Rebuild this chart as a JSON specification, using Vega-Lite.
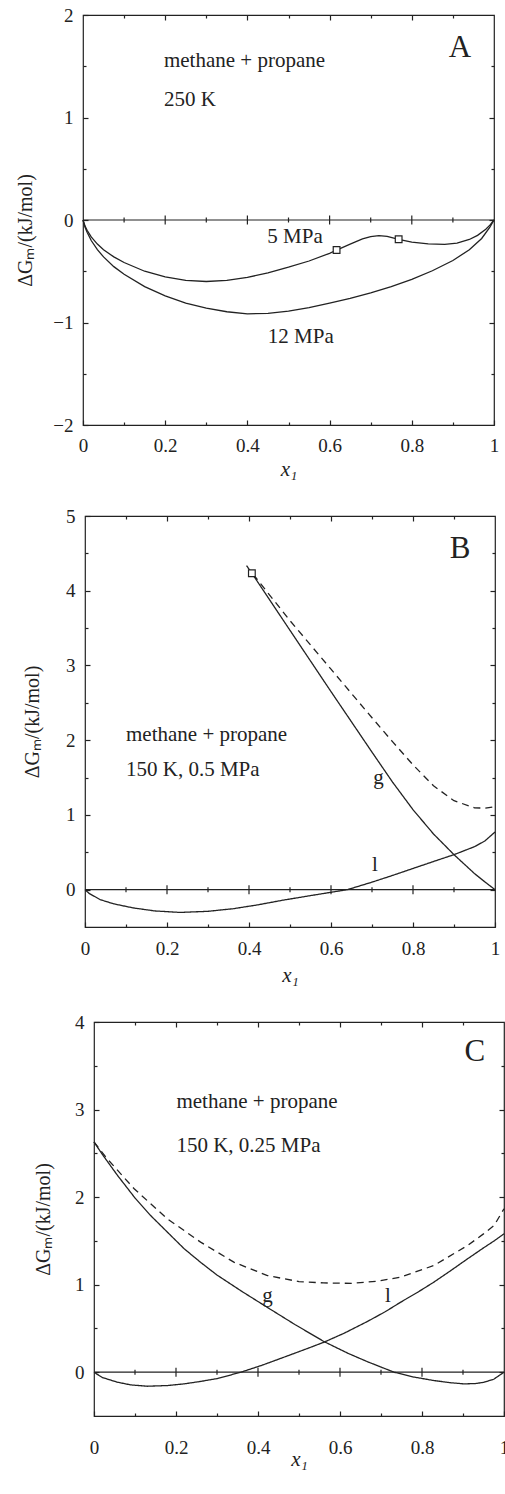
{
"$schema": "https://vega.github.io/schema/vega-lite/v6.json",
"background": "white",
"padding": {"left": 0, "right": 0, "top": 5, "bottom": 0},
"config": {
 "font": "Liberation Serif",
 "view": {"stroke": null},
 "axis": {"labelFont": "Liberation Serif", "labelFontSize": 19, "labelColor": "#222", "titleFont": "Liberation Serif", "titleFontSize": 20, "titleFontWeight": "normal", "titleColor": "#222", "tickColor": "#222", "tickWidth": 1.2, "domain": false, "grid": false, "labelFlush": false, "labelOverlap": false}
},
"datasets": {
 "A": [
  {"x":0,"y":0,"s":"5"},{"x":0.005,"y":-0.06,"s":"5"},{"x":0.01,"y":-0.1,"s":"5"},{"x":0.02,"y":-0.165,"s":"5"},{"x":0.035,"y":-0.235,"s":"5"},{"x":0.05,"y":-0.29,"s":"5"},{"x":0.075,"y":-0.36,"s":"5"},{"x":0.1,"y":-0.415,"s":"5"},{"x":0.15,"y":-0.5,"s":"5"},{"x":0.2,"y":-0.555,"s":"5"},{"x":0.25,"y":-0.59,"s":"5"},{"x":0.3,"y":-0.6,"s":"5"},{"x":0.35,"y":-0.59,"s":"5"},{"x":0.4,"y":-0.56,"s":"5"},{"x":0.45,"y":-0.515,"s":"5"},{"x":0.5,"y":-0.46,"s":"5"},{"x":0.55,"y":-0.4,"s":"5"},{"x":0.6,"y":-0.325,"s":"5"},{"x":0.617,"y":-0.293,"s":"5"},{"x":0.65,"y":-0.235,"s":"5"},{"x":0.68,"y":-0.185,"s":"5"},{"x":0.7,"y":-0.162,"s":"5"},{"x":0.72,"y":-0.153,"s":"5"},{"x":0.74,"y":-0.16,"s":"5"},{"x":0.768,"y":-0.188,"s":"5"},{"x":0.8,"y":-0.215,"s":"5"},{"x":0.84,"y":-0.233,"s":"5"},{"x":0.88,"y":-0.237,"s":"5"},{"x":0.91,"y":-0.225,"s":"5"},{"x":0.94,"y":-0.19,"s":"5"},{"x":0.96,"y":-0.15,"s":"5"},{"x":0.98,"y":-0.09,"s":"5"},{"x":0.99,"y":-0.05,"s":"5"},{"x":1,"y":0,"s":"5"},
  {"x":0,"y":0,"s":"12"},{"x":0.005,"y":-0.07,"s":"12"},{"x":0.01,"y":-0.12,"s":"12"},{"x":0.02,"y":-0.2,"s":"12"},{"x":0.035,"y":-0.29,"s":"12"},{"x":0.05,"y":-0.36,"s":"12"},{"x":0.075,"y":-0.455,"s":"12"},{"x":0.1,"y":-0.53,"s":"12"},{"x":0.15,"y":-0.65,"s":"12"},{"x":0.2,"y":-0.74,"s":"12"},{"x":0.25,"y":-0.81,"s":"12"},{"x":0.3,"y":-0.86,"s":"12"},{"x":0.35,"y":-0.895,"s":"12"},{"x":0.4,"y":-0.915,"s":"12"},{"x":0.45,"y":-0.91,"s":"12"},{"x":0.5,"y":-0.89,"s":"12"},{"x":0.55,"y":-0.855,"s":"12"},{"x":0.6,"y":-0.81,"s":"12"},{"x":0.65,"y":-0.765,"s":"12"},{"x":0.7,"y":-0.71,"s":"12"},{"x":0.75,"y":-0.65,"s":"12"},{"x":0.8,"y":-0.58,"s":"12"},{"x":0.85,"y":-0.495,"s":"12"},{"x":0.9,"y":-0.395,"s":"12"},{"x":0.94,"y":-0.29,"s":"12"},{"x":0.97,"y":-0.18,"s":"12"},{"x":0.99,"y":-0.07,"s":"12"},{"x":1,"y":0,"s":"12"}
 ],
 "B": [
  {"x":0.394,"y":4.337,"s":"g"},{"x":0.407,"y":4.234,"s":"g"},{"x":0.5,"y":3.47,"s":"g"},{"x":0.6,"y":2.65,"s":"g"},{"x":0.7,"y":1.84,"s":"g"},{"x":0.75,"y":1.44,"s":"g"},{"x":0.8,"y":1.07,"s":"g"},{"x":0.85,"y":0.745,"s":"g"},{"x":0.9,"y":0.468,"s":"g"},{"x":0.95,"y":0.215,"s":"g"},{"x":0.975,"y":0.105,"s":"g"},{"x":1,"y":0,"s":"g"},
  {"x":0,"y":0,"s":"l"},{"x":0.01,"y":-0.05,"s":"l"},{"x":0.037,"y":-0.134,"s":"l"},{"x":0.07,"y":-0.19,"s":"l"},{"x":0.118,"y":-0.245,"s":"l"},{"x":0.17,"y":-0.285,"s":"l"},{"x":0.232,"y":-0.305,"s":"l"},{"x":0.3,"y":-0.29,"s":"l"},{"x":0.362,"y":-0.255,"s":"l"},{"x":0.42,"y":-0.205,"s":"l"},{"x":0.484,"y":-0.14,"s":"l"},{"x":0.55,"y":-0.08,"s":"l"},{"x":0.606,"y":-0.03,"s":"l"},{"x":0.64,"y":0,"s":"l"},{"x":0.7,"y":0.1,"s":"l"},{"x":0.75,"y":0.19,"s":"l"},{"x":0.809,"y":0.3,"s":"l"},{"x":0.86,"y":0.395,"s":"l"},{"x":0.9,"y":0.468,"s":"l"},{"x":0.95,"y":0.575,"s":"l"},{"x":0.975,"y":0.65,"s":"l"},{"x":1,"y":0.771,"s":"l"},
  {"x":0.41,"y":4.22,"s":"d"},{"x":0.5,"y":3.6,"s":"d"},{"x":0.6,"y":2.95,"s":"d"},{"x":0.7,"y":2.3,"s":"d"},{"x":0.75,"y":1.98,"s":"d"},{"x":0.8,"y":1.67,"s":"d"},{"x":0.85,"y":1.39,"s":"d"},{"x":0.9,"y":1.19,"s":"d"},{"x":0.95,"y":1.095,"s":"d"},{"x":0.975,"y":1.09,"s":"d"},{"x":1,"y":1.11,"s":"d"}
 ],
 "C": [
  {"x":0,"y":2.63,"s":"g"},{"x":0.02,"y":2.49,"s":"g"},{"x":0.057,"y":2.25,"s":"g"},{"x":0.1,"y":1.99,"s":"g"},{"x":0.138,"y":1.79,"s":"g"},{"x":0.18,"y":1.595,"s":"g"},{"x":0.22,"y":1.41,"s":"g"},{"x":0.26,"y":1.255,"s":"g"},{"x":0.3,"y":1.11,"s":"g"},{"x":0.36,"y":0.925,"s":"g"},{"x":0.423,"y":0.74,"s":"g"},{"x":0.49,"y":0.545,"s":"g"},{"x":0.561,"y":0.35,"s":"g"},{"x":0.62,"y":0.215,"s":"g"},{"x":0.667,"y":0.12,"s":"g"},{"x":0.732,"y":0,"s":"g"},{"x":0.78,"y":-0.055,"s":"g"},{"x":0.829,"y":-0.095,"s":"g"},{"x":0.87,"y":-0.12,"s":"g"},{"x":0.902,"y":-0.133,"s":"g"},{"x":0.93,"y":-0.13,"s":"g"},{"x":0.951,"y":-0.115,"s":"g"},{"x":0.975,"y":-0.08,"s":"g"},{"x":1,"y":0,"s":"g"},
  {"x":0,"y":0,"s":"l"},{"x":0.02,"y":-0.06,"s":"l"},{"x":0.057,"y":-0.114,"s":"l"},{"x":0.09,"y":-0.145,"s":"l"},{"x":0.13,"y":-0.16,"s":"l"},{"x":0.18,"y":-0.152,"s":"l"},{"x":0.22,"y":-0.133,"s":"l"},{"x":0.26,"y":-0.105,"s":"l"},{"x":0.301,"y":-0.072,"s":"l"},{"x":0.358,"y":0,"s":"l"},{"x":0.41,"y":0.08,"s":"l"},{"x":0.463,"y":0.171,"s":"l"},{"x":0.52,"y":0.27,"s":"l"},{"x":0.561,"y":0.343,"s":"l"},{"x":0.61,"y":0.445,"s":"l"},{"x":0.667,"y":0.58,"s":"l"},{"x":0.71,"y":0.69,"s":"l"},{"x":0.748,"y":0.8,"s":"l"},{"x":0.79,"y":0.915,"s":"l"},{"x":0.829,"y":1.029,"s":"l"},{"x":0.87,"y":1.16,"s":"l"},{"x":0.911,"y":1.295,"s":"l"},{"x":0.95,"y":1.42,"s":"l"},{"x":0.976,"y":1.5,"s":"l"},{"x":1,"y":1.581,"s":"l"},
  {"x":0,"y":2.63,"s":"d"},{"x":0.03,"y":2.45,"s":"d"},{"x":0.098,"y":2.095,"s":"d"},{"x":0.179,"y":1.752,"s":"d"},{"x":0.26,"y":1.486,"s":"d"},{"x":0.341,"y":1.257,"s":"d"},{"x":0.423,"y":1.104,"s":"d"},{"x":0.5,"y":1.035,"s":"d"},{"x":0.56,"y":1.02,"s":"d"},{"x":0.63,"y":1.015,"s":"d"},{"x":0.69,"y":1.04,"s":"d"},{"x":0.748,"y":1.086,"s":"d"},{"x":0.829,"y":1.219,"s":"d"},{"x":0.911,"y":1.447,"s":"d"},{"x":0.95,"y":1.58,"s":"d"},{"x":0.976,"y":1.676,"s":"d"},{"x":1,"y":1.867,"s":"d"}
 ],
 "sqA": [{"x":0.617,"y":-0.293},{"x":0.768,"y":-0.188}],
 "sqB": [{"x":0.407,"y":4.234}],
 "majX": [{"x":0.2},{"x":0.4},{"x":0.6},{"x":0.8}],
 "minX": [{"x":0.1},{"x":0.3},{"x":0.5},{"x":0.7},{"x":0.9}],
 "txtA": [{"x":0.197,"y":1.496,"t":"methane + propane"},{"x":0.197,"y":1.115,"t":"250 K"}],
 "lblA": [{"x":0.516,"y":-0.227,"t":"5 MPa"},{"x":0.53,"y":-1.197,"t":"12 MPa"}],
 "ltrA": [{"x":0.917,"y":1.593,"t":"A"}],
 "txtB": [{"x":0.1,"y":1.984,"t":"methane + propane"},{"x":0.1,"y":1.516,"t":"150 K, 0.5 MPa"}],
 "lblB": [{"x":0.716,"y":1.413,"t":"g"},{"x":0.707,"y":0.246,"t":"l"}],
 "ltrB": [{"x":0.915,"y":4.434,"t":"B"}],
 "txtC": [{"x":0.201,"y":3.017,"t":"methane + propane"},{"x":0.201,"y":2.514,"t":"150 K, 0.25 MPa"}],
 "lblC": [{"x":0.423,"y":0.8,"t":"g"},{"x":0.717,"y":0.8,"t":"l"}],
 "ltrC": [{"x":0.929,"y":3.56,"t":"C"}]
},
"vconcat": [
 {"spacing": 8, "hconcat": [
  {"width": 1, "height": 1, "data": {"values": [{}]}, "mark": {"type": "point", "opacity": 0}},
  {"width": 411, "height": 410,
   "view": {"stroke": "#222", "strokeWidth": 1.2},
   "layer": [
    {"data": {"name": "A"}, "mark": {"type": "line", "color": "#222", "strokeWidth": 1.3},
     "encoding": {
      "x": {"field": "x", "type": "quantitative", "scale": {"domain": [0, 1], "nice": false, "zero": false},
        "axis": {"orient": "bottom", "values": [0, 0.2, 0.4, 0.6, 0.8, 1], "format": "~g", "tickSize": -5, "labelPadding": 16, "title": "x₁", "titleFontStyle": "italic", "titleFontSize": 21, "titlePadding": 3}},
      "y": {"field": "y", "type": "quantitative", "scale": {"domain": [-2, 2], "nice": false, "zero": false},
        "axis": {"orient": "left", "values": [-2, -1, 0, 1, 2], "format": "~g", "tickSize": -5, "labelPadding": 15, "title": "ΔGₘ/(kJ/mol)", "titlePadding": 17, "titleY": 215}},
      "detail": {"field": "s"}}},
    {"data": {"name": "A"}, "mark": {"type": "line", "opacity": 0},
     "encoding": {
      "x": {"field": "x", "type": "quantitative", "scale": {"domain": [0, 1], "nice": false, "zero": false}, "axis": {"orient": "top", "values": [0.2, 0.4, 0.6, 0.8], "tickSize": -5, "labels": false, "title": null}},
      "y": {"field": "y", "type": "quantitative", "scale": {"domain": [-2, 2], "nice": false, "zero": false}, "axis": {"orient": "right", "values": [-1, 0, 1], "tickSize": -5, "labels": false, "title": null}},
      "detail": {"field": "s"}}},
    {"data": {"name": "A"}, "mark": {"type": "line", "opacity": 0},
     "encoding": {
      "x": {"field": "x", "type": "quantitative", "scale": {"domain": [0, 1], "nice": false, "zero": false}, "axis": {"orient": "bottom", "values": [0.1, 0.3, 0.5, 0.7, 0.9], "tickSize": -3, "labels": false, "title": null}},
      "y": {"field": "y", "type": "quantitative", "scale": {"domain": [-2, 2], "nice": false, "zero": false}, "axis": {"orient": "left", "values": [-1.5, -0.5, 0.5, 1.5], "tickSize": -3, "labels": false, "title": null}},
      "detail": {"field": "s"}}},
    {"data": {"name": "A"}, "mark": {"type": "line", "opacity": 0},
     "encoding": {
      "x": {"field": "x", "type": "quantitative", "scale": {"domain": [0, 1], "nice": false, "zero": false}, "axis": {"orient": "top", "values": [0.1, 0.3, 0.5, 0.7, 0.9], "tickSize": -3, "labels": false, "title": null}},
      "y": {"field": "y", "type": "quantitative", "scale": {"domain": [-2, 2], "nice": false, "zero": false}, "axis": {"orient": "right", "values": [-1.5, -0.5, 0.5, 1.5], "tickSize": -3, "labels": false, "title": null}},
      "detail": {"field": "s"}}},
    {"data": {"values": [{}]}, "mark": {"type": "rule", "color": "#222", "strokeWidth": 1.2},
     "encoding": {"y": {"datum": 0, "type": "quantitative", "scale": {"domain": [-2, 2], "nice": false, "zero": false}, "axis": null}}},
    {"data": {"name": "majX"}, "mark": {"type": "tick", "orient": "vertical", "size": 9, "thickness": 1.2, "color": "#222", "opacity": 1},
     "encoding": {"x": {"field": "x", "type": "quantitative", "scale": {"domain": [0, 1], "nice": false, "zero": false}, "axis": null}, "y": {"datum": 0, "type": "quantitative", "scale": {"domain": [-2, 2], "nice": false, "zero": false}, "axis": null}}},
    {"data": {"name": "minX"}, "mark": {"type": "tick", "orient": "vertical", "size": 5, "thickness": 1.2, "color": "#222", "opacity": 1},
     "encoding": {"x": {"field": "x", "type": "quantitative", "scale": {"domain": [0, 1], "nice": false, "zero": false}, "axis": null}, "y": {"datum": 0, "type": "quantitative", "scale": {"domain": [-2, 2], "nice": false, "zero": false}, "axis": null}}},
    {"data": {"name": "sqA"}, "mark": {"type": "point", "shape": "square", "filled": true, "fill": "white", "stroke": "#222", "strokeWidth": 1.2, "size": 45, "opacity": 1},
     "encoding": {"x": {"field": "x", "type": "quantitative", "scale": {"domain": [0, 1], "nice": false, "zero": false}, "axis": null}, "y": {"field": "y", "type": "quantitative", "scale": {"domain": [-2, 2], "nice": false, "zero": false}, "axis": null}}},
    {"data": {"name": "txtA"}, "mark": {"type": "text", "align": "left", "baseline": "alphabetic", "fontSize": 21, "font": "Liberation Serif", "color": "#222"},
     "encoding": {"x": {"field": "x", "type": "quantitative", "scale": {"domain": [0, 1], "nice": false, "zero": false}, "axis": null}, "y": {"field": "y", "type": "quantitative", "scale": {"domain": [-2, 2], "nice": false, "zero": false}, "axis": null}, "text": {"field": "t"}}},
    {"data": {"name": "lblA"}, "mark": {"type": "text", "align": "center", "baseline": "alphabetic", "fontSize": 21, "font": "Liberation Serif", "color": "#222"},
     "encoding": {"x": {"field": "x", "type": "quantitative", "scale": {"domain": [0, 1], "nice": false, "zero": false}, "axis": null}, "y": {"field": "y", "type": "quantitative", "scale": {"domain": [-2, 2], "nice": false, "zero": false}, "axis": null}, "text": {"field": "t"}}},
    {"data": {"name": "ltrA"}, "mark": {"type": "text", "align": "center", "baseline": "alphabetic", "fontSize": 31, "font": "Liberation Serif", "color": "#222"},
     "encoding": {"x": {"field": "x", "type": "quantitative", "scale": {"domain": [0, 1], "nice": false, "zero": false}, "axis": null}, "y": {"field": "y", "type": "quantitative", "scale": {"domain": [-2, 2], "nice": false, "zero": false}, "axis": null}, "text": {"field": "t"}}}
   ],
   "resolve": {"axis": {"x": "independent", "y": "independent"}}
  }
 ]},
 {"spacing": 14, "hconcat": [
  {"width": 1, "height": 1, "data": {"values": [{}]}, "mark": {"type": "point", "opacity": 0}},
  {"width": 410, "height": 411,
   "view": {"stroke": "#222", "strokeWidth": 1.2},
   "layer": [
    {"data": {"name": "B"}, "mark": {"type": "line", "color": "#222", "strokeWidth": 1.3},
     "encoding": {
      "x": {"field": "x", "type": "quantitative", "scale": {"domain": [0, 1], "nice": false, "zero": false},
        "axis": {"orient": "bottom", "values": [0, 0.2, 0.4, 0.6, 0.8, 1], "format": "~g", "tickSize": -5, "labelPadding": 17, "title": "x₁", "titleFontStyle": "italic", "titleFontSize": 21, "titlePadding": 6}},
      "y": {"field": "y", "type": "quantitative", "scale": {"domain": [-0.5, 5], "nice": false, "zero": false},
        "axis": {"orient": "left", "values": [0, 1, 2, 3, 4, 5], "format": "~g", "tickSize": -5, "labelPadding": 15, "title": "ΔGₘ/(kJ/mol)", "titlePadding": 23}},
      "detail": {"field": "s"},
      "strokeDash": {"field": "s", "type": "nominal", "scale": {"domain": ["g", "l", "d"], "range": [[1, 0], [1, 0], [7, 5]]}, "legend": null}}},
    {"data": {"name": "B"}, "mark": {"type": "line", "opacity": 0},
     "encoding": {
      "x": {"field": "x", "type": "quantitative", "scale": {"domain": [0, 1], "nice": false, "zero": false}, "axis": {"orient": "top", "values": [0.2, 0.4, 0.6, 0.8], "tickSize": -5, "labels": false, "title": null}},
      "y": {"field": "y", "type": "quantitative", "scale": {"domain": [-0.5, 5], "nice": false, "zero": false}, "axis": {"orient": "right", "values": [0, 1, 2, 3, 4], "tickSize": -5, "labels": false, "title": null}},
      "detail": {"field": "s"}}},
    {"data": {"name": "B"}, "mark": {"type": "line", "opacity": 0},
     "encoding": {
      "x": {"field": "x", "type": "quantitative", "scale": {"domain": [0, 1], "nice": false, "zero": false}, "axis": {"orient": "bottom", "values": [0.1, 0.3, 0.5, 0.7, 0.9], "tickSize": -3, "labels": false, "title": null}},
      "y": {"field": "y", "type": "quantitative", "scale": {"domain": [-0.5, 5], "nice": false, "zero": false}, "axis": {"orient": "left", "values": [0.5, 1.5, 2.5, 3.5, 4.5], "tickSize": -3, "labels": false, "title": null}},
      "detail": {"field": "s"}}},
    {"data": {"name": "B"}, "mark": {"type": "line", "opacity": 0},
     "encoding": {
      "x": {"field": "x", "type": "quantitative", "scale": {"domain": [0, 1], "nice": false, "zero": false}, "axis": {"orient": "top", "values": [0.1, 0.3, 0.5, 0.7, 0.9], "tickSize": -3, "labels": false, "title": null}},
      "y": {"field": "y", "type": "quantitative", "scale": {"domain": [-0.5, 5], "nice": false, "zero": false}, "axis": {"orient": "right", "values": [0.5, 1.5, 2.5, 3.5, 4.5], "tickSize": -3, "labels": false, "title": null}},
      "detail": {"field": "s"}}},
    {"data": {"values": [{}]}, "mark": {"type": "rule", "color": "#222", "strokeWidth": 1.2},
     "encoding": {"y": {"datum": 0, "type": "quantitative", "scale": {"domain": [-0.5, 5], "nice": false, "zero": false}, "axis": null}}},
    {"data": {"name": "majX"}, "mark": {"type": "tick", "orient": "vertical", "size": 9, "thickness": 1.2, "color": "#222", "opacity": 1},
     "encoding": {"x": {"field": "x", "type": "quantitative", "scale": {"domain": [0, 1], "nice": false, "zero": false}, "axis": null}, "y": {"datum": 0, "type": "quantitative", "scale": {"domain": [-0.5, 5], "nice": false, "zero": false}, "axis": null}}},
    {"data": {"name": "minX"}, "mark": {"type": "tick", "orient": "vertical", "size": 5, "thickness": 1.2, "color": "#222", "opacity": 1},
     "encoding": {"x": {"field": "x", "type": "quantitative", "scale": {"domain": [0, 1], "nice": false, "zero": false}, "axis": null}, "y": {"datum": 0, "type": "quantitative", "scale": {"domain": [-0.5, 5], "nice": false, "zero": false}, "axis": null}}},
    {"data": {"name": "sqB"}, "mark": {"type": "point", "shape": "square", "filled": true, "fill": "white", "stroke": "#222", "strokeWidth": 1.2, "size": 45, "opacity": 1},
     "encoding": {"x": {"field": "x", "type": "quantitative", "scale": {"domain": [0, 1], "nice": false, "zero": false}, "axis": null}, "y": {"field": "y", "type": "quantitative", "scale": {"domain": [-0.5, 5], "nice": false, "zero": false}, "axis": null}}},
    {"data": {"name": "txtB"}, "mark": {"type": "text", "align": "left", "baseline": "alphabetic", "fontSize": 21, "font": "Liberation Serif", "color": "#222"},
     "encoding": {"x": {"field": "x", "type": "quantitative", "scale": {"domain": [0, 1], "nice": false, "zero": false}, "axis": null}, "y": {"field": "y", "type": "quantitative", "scale": {"domain": [-0.5, 5], "nice": false, "zero": false}, "axis": null}, "text": {"field": "t"}}},
    {"data": {"name": "lblB"}, "mark": {"type": "text", "align": "center", "baseline": "alphabetic", "fontSize": 21, "font": "Liberation Serif", "color": "#222"},
     "encoding": {"x": {"field": "x", "type": "quantitative", "scale": {"domain": [0, 1], "nice": false, "zero": false}, "axis": null}, "y": {"field": "y", "type": "quantitative", "scale": {"domain": [-0.5, 5], "nice": false, "zero": false}, "axis": null}, "text": {"field": "t"}}},
    {"data": {"name": "ltrB"}, "mark": {"type": "text", "align": "center", "baseline": "alphabetic", "fontSize": 31, "font": "Liberation Serif", "color": "#222"},
     "encoding": {"x": {"field": "x", "type": "quantitative", "scale": {"domain": [0, 1], "nice": false, "zero": false}, "axis": null}, "y": {"field": "y", "type": "quantitative", "scale": {"domain": [-0.5, 5], "nice": false, "zero": false}, "axis": null}, "text": {"field": "t"}}}
   ],
   "resolve": {"axis": {"x": "independent", "y": "independent"}}
  }
 ]},
 {"spacing": 25, "hconcat": [
  {"width": 1, "height": 1, "data": {"values": [{}]}, "mark": {"type": "point", "opacity": 0}},
  {"width": 410, "height": 394,
   "view": {"stroke": "#222", "strokeWidth": 1.2},
   "layer": [
    {"data": {"name": "C"}, "mark": {"type": "line", "color": "#222", "strokeWidth": 1.3},
     "encoding": {
      "x": {"field": "x", "type": "quantitative", "scale": {"domain": [0, 1], "nice": false, "zero": false},
        "axis": {"orient": "bottom", "values": [0, 0.2, 0.4, 0.6, 0.8, 1], "format": "~g", "tickSize": -5, "labelPadding": 27, "title": "x₁", "titleFontStyle": "italic", "titleFontSize": 21, "titlePadding": -9}},
      "y": {"field": "y", "type": "quantitative", "scale": {"domain": [-0.5, 4], "nice": false, "zero": false},
        "axis": {"orient": "left", "values": [0, 1, 2, 3, 4], "format": "~g", "tickSize": -5, "labelPadding": 15, "title": "ΔGₘ/(kJ/mol)", "titlePadding": 21}},
      "detail": {"field": "s"},
      "strokeDash": {"field": "s", "type": "nominal", "scale": {"domain": ["g", "l", "d"], "range": [[1, 0], [1, 0], [7, 5]]}, "legend": null}}},
    {"data": {"name": "C"}, "mark": {"type": "line", "opacity": 0},
     "encoding": {
      "x": {"field": "x", "type": "quantitative", "scale": {"domain": [0, 1], "nice": false, "zero": false}, "axis": {"orient": "top", "values": [0.2, 0.4, 0.6, 0.8], "tickSize": -5, "labels": false, "title": null}},
      "y": {"field": "y", "type": "quantitative", "scale": {"domain": [-0.5, 4], "nice": false, "zero": false}, "axis": {"orient": "right", "values": [0, 1, 2, 3], "tickSize": -5, "labels": false, "title": null}},
      "detail": {"field": "s"}}},
    {"data": {"name": "C"}, "mark": {"type": "line", "opacity": 0},
     "encoding": {
      "x": {"field": "x", "type": "quantitative", "scale": {"domain": [0, 1], "nice": false, "zero": false}, "axis": {"orient": "bottom", "values": [0.1, 0.3, 0.5, 0.7, 0.9], "tickSize": -3, "labels": false, "title": null}},
      "y": {"field": "y", "type": "quantitative", "scale": {"domain": [-0.5, 4], "nice": false, "zero": false}, "axis": {"orient": "left", "values": [0.5, 1.5, 2.5, 3.5], "tickSize": -3, "labels": false, "title": null}},
      "detail": {"field": "s"}}},
    {"data": {"name": "C"}, "mark": {"type": "line", "opacity": 0},
     "encoding": {
      "x": {"field": "x", "type": "quantitative", "scale": {"domain": [0, 1], "nice": false, "zero": false}, "axis": {"orient": "top", "values": [0.1, 0.3, 0.5, 0.7, 0.9], "tickSize": -3, "labels": false, "title": null}},
      "y": {"field": "y", "type": "quantitative", "scale": {"domain": [-0.5, 4], "nice": false, "zero": false}, "axis": {"orient": "right", "values": [0.5, 1.5, 2.5, 3.5], "tickSize": -3, "labels": false, "title": null}},
      "detail": {"field": "s"}}},
    {"data": {"values": [{}]}, "mark": {"type": "rule", "color": "#222", "strokeWidth": 1.2},
     "encoding": {"y": {"datum": 0, "type": "quantitative", "scale": {"domain": [-0.5, 4], "nice": false, "zero": false}, "axis": null}}},
    {"data": {"name": "majX"}, "mark": {"type": "tick", "orient": "vertical", "size": 9, "thickness": 1.2, "color": "#222", "opacity": 1},
     "encoding": {"x": {"field": "x", "type": "quantitative", "scale": {"domain": [0, 1], "nice": false, "zero": false}, "axis": null}, "y": {"datum": 0, "type": "quantitative", "scale": {"domain": [-0.5, 4], "nice": false, "zero": false}, "axis": null}}},
    {"data": {"name": "minX"}, "mark": {"type": "tick", "orient": "vertical", "size": 5, "thickness": 1.2, "color": "#222", "opacity": 1},
     "encoding": {"x": {"field": "x", "type": "quantitative", "scale": {"domain": [0, 1], "nice": false, "zero": false}, "axis": null}, "y": {"datum": 0, "type": "quantitative", "scale": {"domain": [-0.5, 4], "nice": false, "zero": false}, "axis": null}}},
    {"data": {"name": "txtC"}, "mark": {"type": "text", "align": "left", "baseline": "alphabetic", "fontSize": 21, "font": "Liberation Serif", "color": "#222"},
     "encoding": {"x": {"field": "x", "type": "quantitative", "scale": {"domain": [0, 1], "nice": false, "zero": false}, "axis": null}, "y": {"field": "y", "type": "quantitative", "scale": {"domain": [-0.5, 4], "nice": false, "zero": false}, "axis": null}, "text": {"field": "t"}}},
    {"data": {"name": "lblC"}, "mark": {"type": "text", "align": "center", "baseline": "alphabetic", "fontSize": 21, "font": "Liberation Serif", "color": "#222"},
     "encoding": {"x": {"field": "x", "type": "quantitative", "scale": {"domain": [0, 1], "nice": false, "zero": false}, "axis": null}, "y": {"field": "y", "type": "quantitative", "scale": {"domain": [-0.5, 4], "nice": false, "zero": false}, "axis": null}, "text": {"field": "t"}}},
    {"data": {"name": "ltrC"}, "mark": {"type": "text", "align": "center", "baseline": "alphabetic", "fontSize": 31, "font": "Liberation Serif", "color": "#222"},
     "encoding": {"x": {"field": "x", "type": "quantitative", "scale": {"domain": [0, 1], "nice": false, "zero": false}, "axis": null}, "y": {"field": "y", "type": "quantitative", "scale": {"domain": [-0.5, 4], "nice": false, "zero": false}, "axis": null}, "text": {"field": "t"}}}
   ],
   "resolve": {"axis": {"x": "independent", "y": "independent"}}
  }
 ]}
],
"spacing": 26
}
